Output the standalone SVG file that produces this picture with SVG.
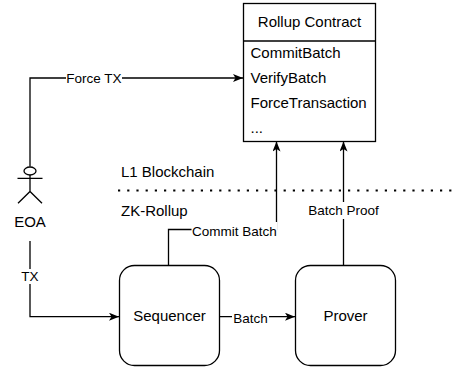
<svg xmlns="http://www.w3.org/2000/svg" width="458" height="368" viewBox="0 0 458 368">
<style>
.t{font-family:"Liberation Sans",Arial,sans-serif;font-size:15px;fill:#000}
.l{font-family:"Liberation Sans",Arial,sans-serif;font-size:13.5px;fill:#000;text-anchor:middle}
.c{text-anchor:middle}
.ln{fill:none;stroke:#000;stroke-width:1.3}
.box{fill:#fff;stroke:#000;stroke-width:1.3}
.bg{fill:#fff}
</style>
<defs>
<marker id="arr" viewBox="0 0 10 8" refX="10" refY="4" markerWidth="10" markerHeight="8" markerUnits="userSpaceOnUse" orient="auto">
<path d="M0,0 L10,4 L0,8 L2.5,4 Z" fill="#000"/>
</marker>
</defs>
<g id="divider">
<line x1="118" y1="190.5" x2="458" y2="190.5" stroke="#000" stroke-width="2.2" stroke-dasharray="2.2 7"/>
<text class="t" x="121" y="177.4">L1 Blockchain</text>
<text class="t" x="121" y="216.4">ZK-Rollup</text>
</g>
<g id="connectors">
<path class="ln" d="M30,166.5 V78 H243" marker-end="url(#arr)"/>
<rect class="bg" x="66" y="71" width="56" height="15"/>
<text class="l" x="94" y="83">Force TX</text>
<path class="ln" d="M30,241 V316.7 H119" marker-end="url(#arr)"/>
<rect class="bg" x="20" y="269" width="20" height="15"/>
<text class="l" x="30" y="281">TX</text>
<path class="ln" d="M219,316.7 H295" marker-end="url(#arr)"/>
<rect class="bg" x="232" y="310" width="37" height="16"/>
<text class="l" x="250.5" y="323">Batch</text>
<path class="ln" d="M168.5,265 V229.5 H276.5 V141.5" marker-end="url(#arr)"/>
<rect class="bg" x="191.5" y="222" width="86" height="16"/>
<text class="l" x="234.3" y="236.4">Commit Batch</text>
<path class="ln" d="M343.5,265 V141.5" marker-end="url(#arr)"/>
<rect class="bg" x="307" y="202" width="73" height="17"/>
<text class="l" x="343.5" y="215.4">Batch Proof</text>
</g>
<g id="rollup-contract">
<rect class="box" x="243.5" y="3.5" width="132" height="138"/>
<line class="ln" x1="243.5" y1="41" x2="375.5" y2="41"/>
<text class="t c" x="309.5" y="27">Rollup Contract</text>
<text class="t" x="250.5" y="58.4">CommitBatch</text>
<text class="t" x="250.5" y="83.4">VerifyBatch</text>
<text class="t" x="250.5" y="108.4">ForceTransaction</text>
<text class="t" x="250.5" y="133">...</text>
</g>
<g id="eoa">
<ellipse class="box" cx="30" cy="171" rx="6" ry="4"/>
<path class="ln" d="M30,175 V191.5 M17.5,178.3 H42.5 M18,203.3 L30,191.5 L42,203.3"/>
<text class="t c" x="30" y="226.7">EOA</text>
</g>
<g id="sequencer">
<rect class="box" x="119.5" y="265.5" width="100" height="100" rx="15" ry="15"/>
<text class="t c" x="169.5" y="320.7">Sequencer</text>
</g>
<g id="prover">
<rect class="box" x="295.5" y="265.5" width="100" height="100" rx="15" ry="15"/>
<text class="t c" x="345.5" y="320.7">Prover</text>
</g>
</svg>
